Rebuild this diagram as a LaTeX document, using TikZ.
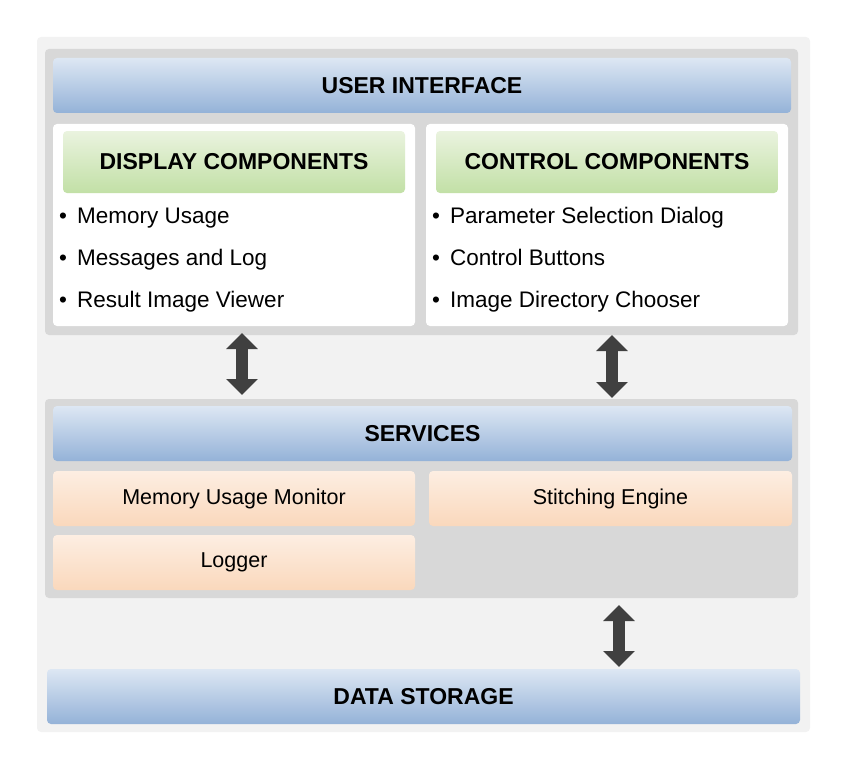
\documentclass[tikz,border=0pt]{standalone}
\usepackage{fontspec}
\setmainfont{Liberation Sans}
\usetikzlibrary{arrows.meta}
\definecolor{bgpage}{HTML}{F2F2F2}
\definecolor{grpgray}{HTML}{D8D8D8}
\definecolor{bluetop}{HTML}{DDE7F3}
\definecolor{bluebot}{HTML}{94B2D8}
\definecolor{greentop}{HTML}{EAF3DF}
\definecolor{greenbot}{HTML}{C2E0A6}
\definecolor{peachtop}{HTML}{FDEEE2}
\definecolor{peachbot}{HTML}{FAD8BC}
\definecolor{arrowgray}{HTML}{404040}
\tikzset{>/.tip={Triangle[width=31pt,length=16pt]}}

\begin{document}
\begin{tikzpicture}[x=1pt,y=-1pt,
  box/.style={anchor=north west, rounded corners=4pt, inner sep=0pt, outer sep=0pt},
  group/.style={box, fill=grpgray},
  panel/.style={box, fill=white},
  head/.style={box, top color=bluetop, bottom color=bluebot, font=\fontsize{23}{27}\selectfont\bfseries},
  subhead/.style={box, top color=greentop, bottom color=greenbot, font=\fontsize{23}{27}\selectfont\bfseries},
  svc/.style={box, top color=peachtop, bottom color=peachbot, font=\fontsize{21.5}{25}\selectfont},
  item/.style={anchor=base west, inner sep=0pt, font=\fontsize{22.5}{26}\selectfont},
  dblarrow/.style={<->, line width=12pt, draw=arrowgray}]
\useasboundingbox (0,0) rectangle (847,768);
\node[box, fill=bgpage, minimum width=773pt, minimum height=695pt] (bg) at (37,37) {};

% user interface
\node[group, minimum width=753pt, minimum height=286pt] (uigrp) at (45,49) {};
\node[head, minimum width=738pt, minimum height=55pt] (ui) at (53,58) {USER INTERFACE};
\node[panel, minimum width=362pt, minimum height=202pt] (disp) at (53,124) {};
\node[panel, minimum width=362pt, minimum height=202pt] (ctrl) at (426,124) {};
\node[subhead, minimum width=342pt, minimum height=62pt] (disph) at (63,131) {DISPLAY COMPONENTS};
\node[subhead, minimum width=342pt, minimum height=62pt] (ctrlh) at (436,131) {CONTROL COMPONENTS};

\node[item] (d1) at (59,223) {\textbullet\hspace{10pt}Memory Usage};
\node[item] (d2) at (59,265) {\textbullet\hspace{10pt}Messages and Log};
\node[item] (d3) at (59,307) {\textbullet\hspace{10pt}Result Image Viewer};
\node[item] (c1) at (432,223) {\textbullet\hspace{10pt}Parameter Selection Dialog};
\node[item] (c2) at (432,265) {\textbullet\hspace{10pt}Control Buttons};
\node[item] (c3) at (432,307) {\textbullet\hspace{10pt}Image Directory Chooser};

% services
\node[group, minimum width=753pt, minimum height=199pt] (svcgrp) at (45,399) {};
\node[head, minimum width=739pt, minimum height=55pt] (svch) at (53,406) {SERVICES};
\node[svc, minimum width=362pt, minimum height=55pt] (mem) at (53,471) {Memory Usage Monitor};
\node[svc, minimum width=363pt, minimum height=55pt] (stitch) at (429,471) {Stitching Engine};
\node[svc, minimum width=362pt, minimum height=55pt] (log) at (53,535) {Logger};

% data storage
\node[head, minimum width=753pt, minimum height=55pt] (data) at (47,669) {DATA STORAGE};

% arrows
\coordinate (a1t) at (242,333);
\coordinate (a1b) at (242,395);
\coordinate (a2t) at (612,335);
\coordinate (a2b) at (612,398);
\coordinate (a3t) at (619,605);
\coordinate (a3b) at (619,667);
\draw[dblarrow] (a1t) -- (a1b);
\draw[dblarrow] (a2t) -- (a2b);
\draw[dblarrow] (a3t) -- (a3b);
\end{tikzpicture}
\end{document}
